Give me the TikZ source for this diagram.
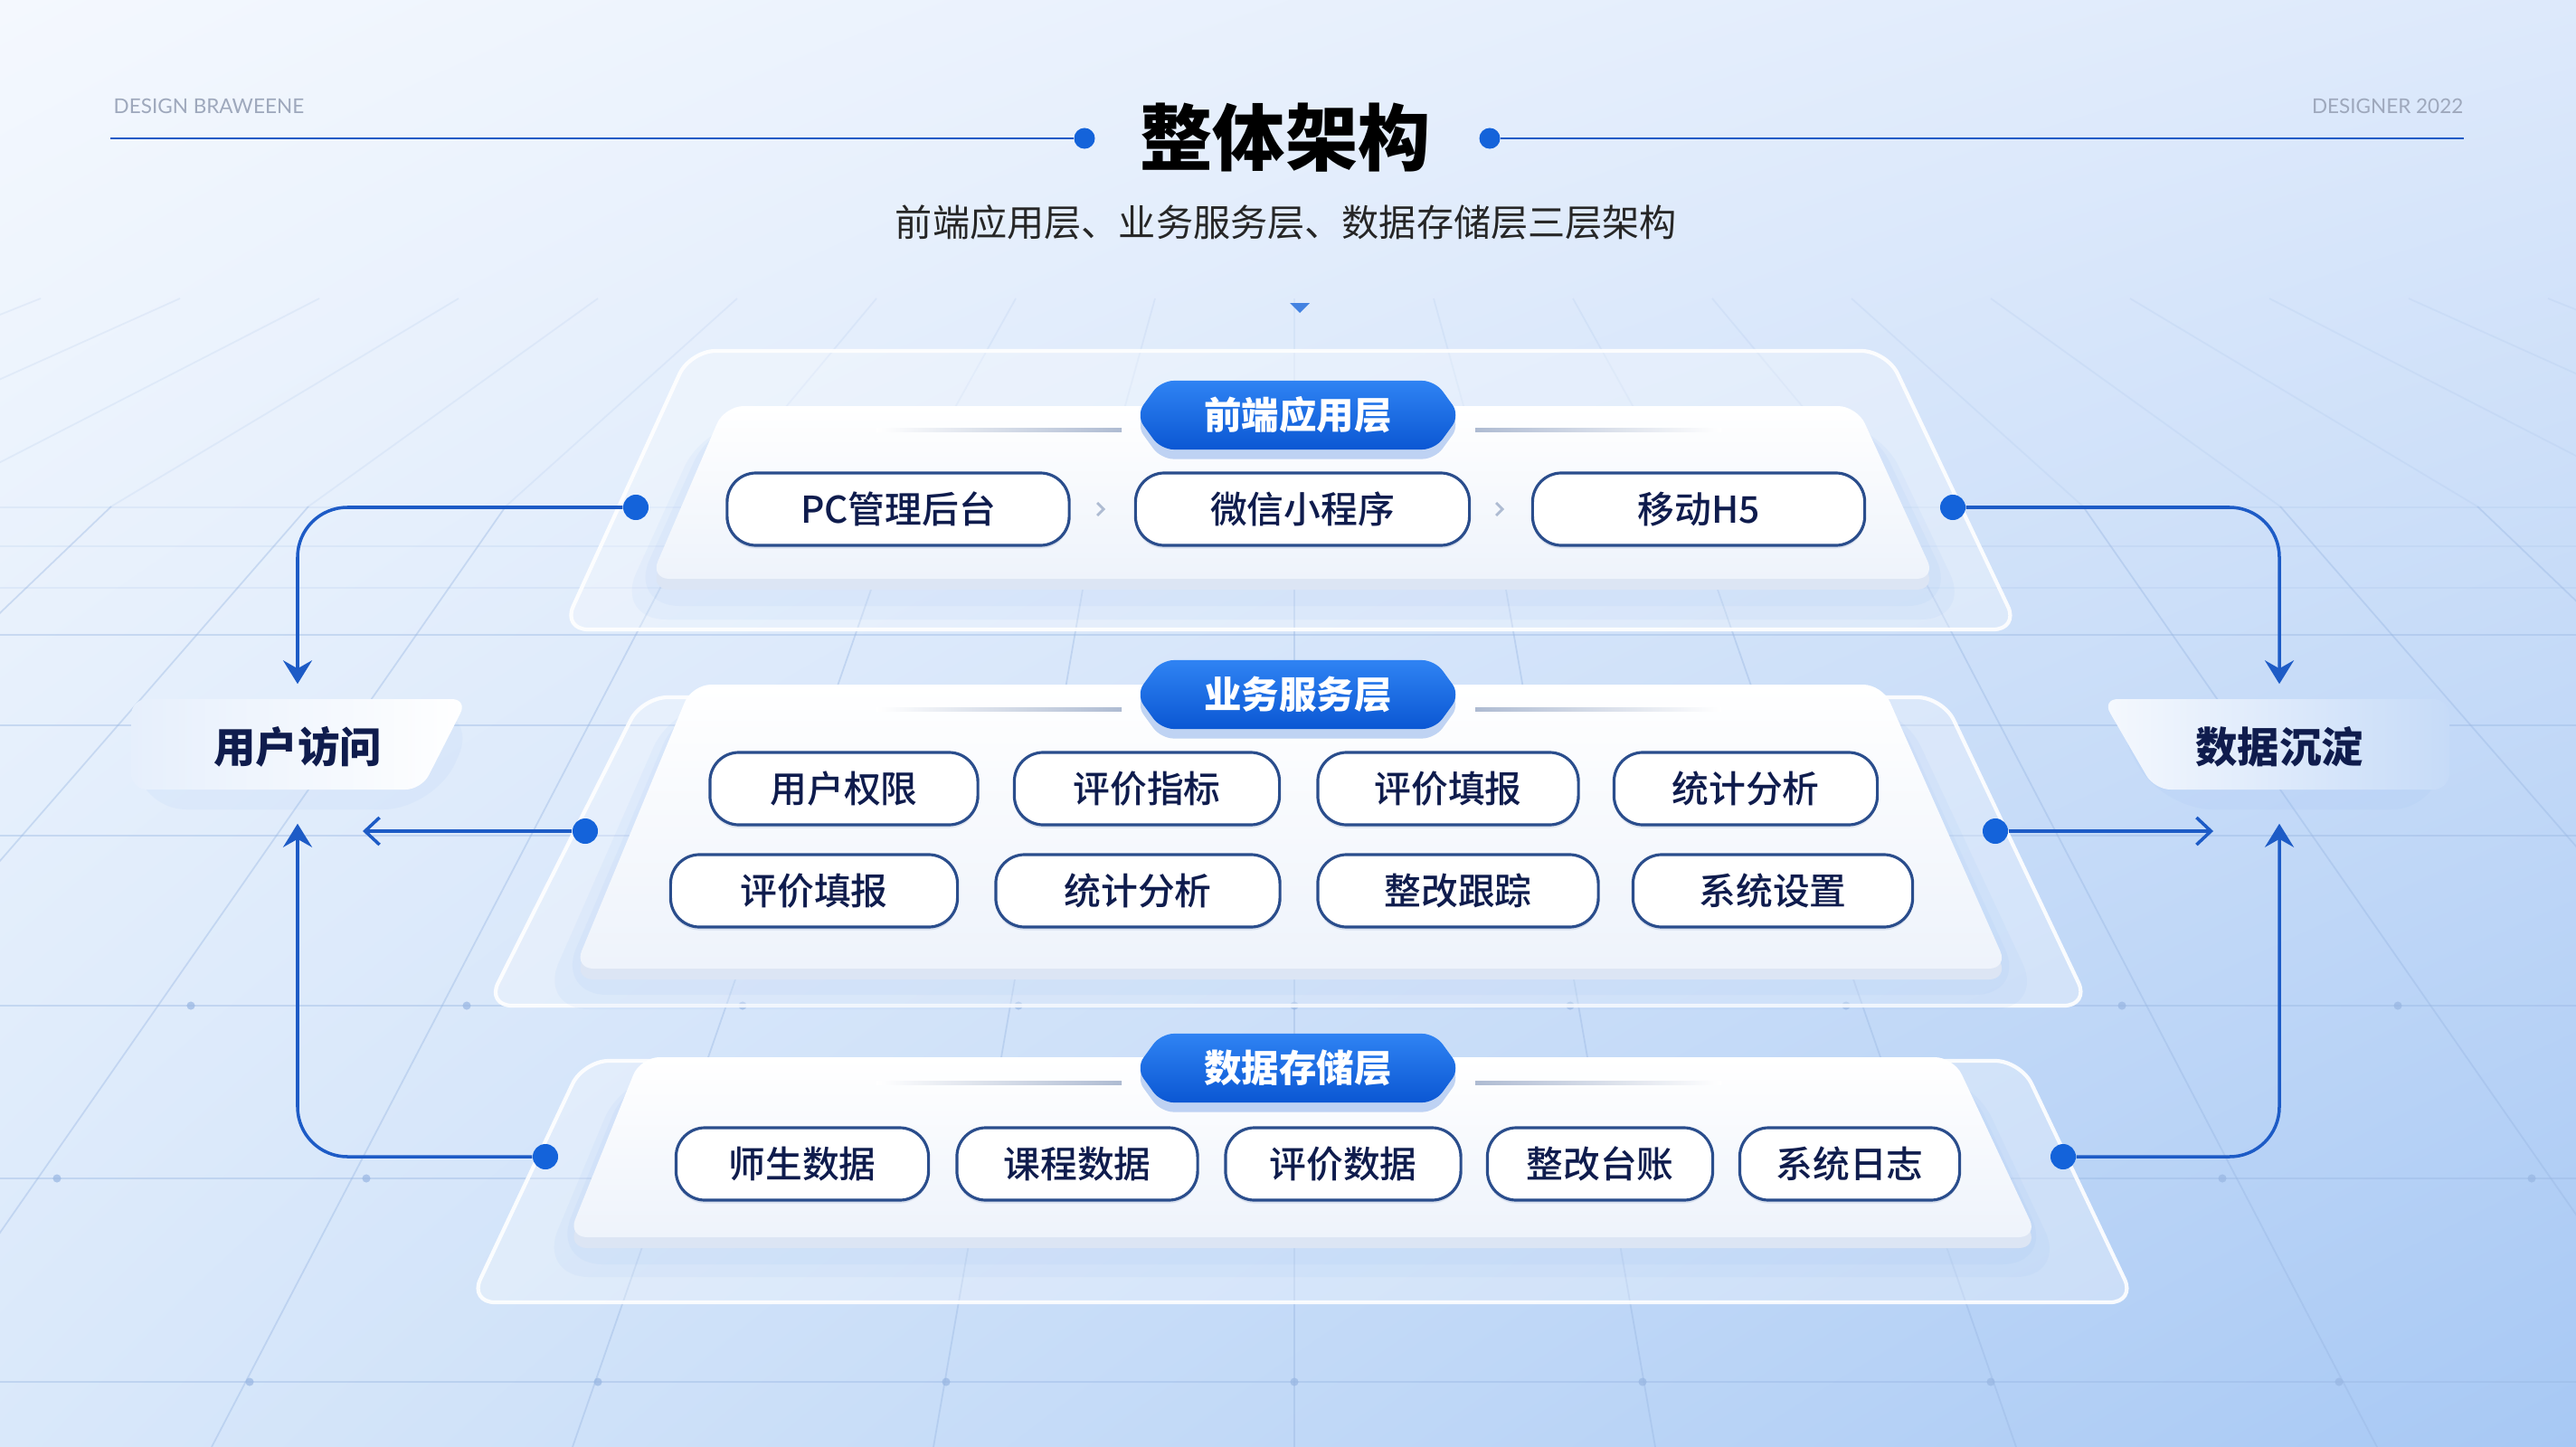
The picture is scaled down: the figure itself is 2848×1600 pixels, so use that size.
\documentclass[tikz,border=0pt]{standalone}
\usepackage{fontspec}
\setmainfont{Noto Sans CJK SC}
\newfontfamily\latinfont{Lato}
\newfontfamily\pillfont{Noto Sans CJK SC}[UprightFont=* Medium]
\usetikzlibrary{arrows.meta,shapes.symbols,shadows,shadings}
\definecolor{bgtl}{HTML}{F4F8FE}
\definecolor{bgtr}{HTML}{DDE9FB}
\definecolor{bgbl}{HTML}{D9E8FA}
\definecolor{bgbr}{HTML}{A7C8F4}
\definecolor{gridcol}{HTML}{98B6E2}
\definecolor{flowblue}{HTML}{1D5BC6}
\definecolor{dotblue}{HTML}{1463DA}
\definecolor{navy}{HTML}{0F1C4D}
\definecolor{pillline}{HTML}{2A4D8C}
\definecolor{badgetop}{HTML}{2F83F3}
\definecolor{badgebot}{HTML}{0B57D3}
\definecolor{platebot}{HTML}{EEF3FB}
\definecolor{plateedge}{HTML}{DCE5F4}
\definecolor{plateglow}{HTML}{7FAEF0}
\definecolor{sideline}{HTML}{AEBBD2}
\definecolor{cornergray}{HTML}{9EA8BC}
\definecolor{fadeL}{HTML}{E6EFFC}
\definecolor{fadeR}{HTML}{C6DBF8}
\tikzset{
  gridline/.style={draw=gridcol,line width=0.5pt,opacity=0.4},
  gridfaint/.style={draw=gridcol,line width=0.5pt,opacity=0.15},
  griddot/.style={fill=gridcol,opacity=0.7},
  glass/.style={fill=white,fill opacity=0.3,draw=white,draw opacity=0.9,line width=1.2pt,rounded corners=8pt},
  edge/.style={fill=plateedge,rounded corners=6pt},
  platetop/.style={top color=white,bottom color=platebot,rounded corners=6pt},
  glow/.style={fill=plateglow,opacity=0.07,rounded corners=16pt},
  pill/.style={draw=pillline,line width=0.9pt,fill=white,rounded corners=0.32cm,minimum height=0.8cm,inner sep=0pt,
    font=\pillfont\fontsize{11.6}{14}\selectfont,text=navy,drop shadow={shadow xshift=0pt,shadow yshift=-1pt,opacity=0.12,fill=pillline}},
  badge/.style={signal,signal to=east and west,signal pointer angle=108,top color=badgetop,bottom color=badgebot,rounded corners=4pt,
    minimum width=3.58cm,minimum height=0.76cm,inner sep=0pt,text=white,font=\fontsize{11.8}{14}\bfseries\selectfont,
    drop shadow={shadow xshift=0pt,shadow yshift=-3pt,opacity=0.25,fill=badgebot}},
  dot/.style={circle,fill=dotblue,minimum size=0.28cm,inner sep=0pt},
  tdot/.style={circle,fill=dotblue,minimum size=0.23cm,inner sep=0pt},
  tline/.style={draw=flowblue,line width=0.6pt},
  flow/.style={draw=flowblue,line width=1pt,rounded corners=0.55cm},
  downtip/.style={-{Stealth[length=0.26cm,width=0.32cm,inset=0.09cm]}},
  opentip/.style={-{Straight Barb[length=0.16cm,width=0.3cm]}},
  side/.style={font=\fontsize{13.2}{16}\bfseries\selectfont,text=navy,minimum height=1cm,inner sep=0pt},
  chev/.style={draw=sideline,line width=0.8pt},
  corner/.style={font=\latinfont\fontsize{6.4}{8}\selectfont,text=cornergray,inner sep=0pt},
}
\begin{document}
\begin{tikzpicture}[x=0.01cm,y=-0.01cm]
  \useasboundingbox (0,0) rectangle (2848,1600);
  \shade[upper left=bgtl,upper right=bgtr,lower left=bgbl,lower right=bgbr] (0,0) rectangle (2848,1600);
  \begin{scope}
    \clip (0,0) rectangle (2848,1600);
    \foreach \k in {-12,...,12}{
      \draw[gridfaint] ({1431+\k*154},330) -- ({1431+\k*218},560);
      \draw[gridline] ({1431+\k*218},560) -- ({1431+\k*399},1600);
    }
    \foreach \y in {561,604,650}
      \draw[gridfaint] (0,\y) -- (2848,\y);
    \foreach \y in {702,802,924,1112,1303,1528}
      \draw[gridline] (0,\y) -- (2848,\y);
    \foreach \y/\s in {1112/305,1303/342,1528/385}
      \foreach \k in {-6,...,6}
        \fill[griddot] ({1431+\k*\s},\y) circle (1.3pt);
  \end{scope}

  \node[corner,anchor=west] (brandl) at (125,117) {DESIGN BRAWEENE};
  \node[corner,anchor=east] (brandr) at (2724,117) {DESIGNER 2022};
  \node[font=\fontsize{22.8}{27}\bfseries\selectfont,text=black] (title) at (1421,152) {整体架构};
  \node[tdot] (tdl) at (1199,153) {};
  \node[tdot] (tdr) at (1647,153) {};
  \coordinate (tll) at (122,153);
  \coordinate (tlr) at (2724,153);
  \draw[tline] (tll) -- (tdl);
  \draw[tline] (tdr) -- (tlr);
  \node[font=\fontsize{11.7}{14}\selectfont,text=black!85] (subtitle) at (1422,246) {前端应用层、业务服务层、数据存储层三层架构};
  \fill[dotblue!80] (1426,335) -- (1448,335) -- (1437,346) -- cycle;

  \draw[glass] (763,388) -- (2086,388) -- (2232,696) -- (622,696) -- cycle;
  \fill[glow] (780,465) -- (2075,465) -- (2180,685) -- (680,685) -- cycle;
  \fill[glow] (790,460) -- (2065,460) -- (2165,670) -- (695,670) -- cycle;
  \fill[edge] (801,461) -- (2053,461) -- (2140,652) -- (719,652) -- cycle;
  \shade[platetop] (801,449) -- (2053,449) -- (2140,640) -- (719,640) -- cycle;
  \shade[left color=white,right color=sideline] (969,473) rectangle (1240,477);
  \shade[left color=sideline,right color=white] (1631,473) rectangle (1903,477);
  \node[badge] (front) at (1435,459) {前端应用层};
  \node[pill,minimum width=3.78cm] (fe1) at (993,563) {PC管理后台};
  \node[pill,minimum width=3.69cm] (fe2) at (1440,563) {微信小程序};
  \node[pill,minimum width=3.67cm] (fe3) at (1878,563) {移动H5};
  \draw[chev] (1213,556) -- (1220,563) -- (1213,570);
  \draw[chev] (1654,556) -- (1661,563) -- (1654,570);

  \draw[glass] (710,771) -- (2148,771) -- (2310,1112) -- (538,1112) -- cycle;
  \fill[glow] (745,775) -- (2100,775) -- (2260,1116) -- (595,1116) -- cycle;
  \fill[glow] (755,772) -- (2090,772) -- (2240,1100) -- (615,1100) -- cycle;
  \fill[edge] (765,769) -- (2081,769) -- (2220,1083) -- (635,1083) -- cycle;
  \shade[platetop] (765,757) -- (2081,757) -- (2220,1071) -- (635,1071) -- cycle;
  \shade[left color=white,right color=sideline] (969,782) rectangle (1240,786);
  \shade[left color=sideline,right color=white] (1631,782) rectangle (1903,786);
  \node[badge] (biz) at (1435,768) {业务服务层};
  \node[pill,minimum width=2.96cm] (bz1) at (933,872) {用户权限};
  \node[pill,minimum width=2.93cm] (bz2) at (1268,872) {评价指标};
  \node[pill,minimum width=2.88cm] (bz3) at (1601,872) {评价填报};
  \node[pill,minimum width=2.91cm] (bz4) at (1930,872) {统计分析};
  \node[pill,minimum width=3.17cm] (bz5) at (900,985) {评价填报};
  \node[pill,minimum width=3.14cm] (bz6) at (1258,985) {统计分析};
  \node[pill,minimum width=3.10cm] (bz7) at (1612,985) {整改跟踪};
  \node[pill,minimum width=3.09cm] (bz8) at (1960,985) {系统设置};

  \draw[glass] (645,1173) -- (2234,1173) -- (2361,1440) -- (519,1440) -- cycle;
  \fill[glow] (690,1185) -- (2178,1185) -- (2285,1412) -- (595,1412) -- cycle;
  \fill[glow] (698,1182) -- (2170,1182) -- (2270,1398) -- (610,1398) -- cycle;
  \fill[edge] (708,1181) -- (2160,1181) -- (2253,1380) -- (628,1380) -- cycle;
  \shade[platetop] (708,1169) -- (2160,1169) -- (2253,1368) -- (628,1368) -- cycle;
  \shade[left color=white,right color=sideline] (969,1195) rectangle (1240,1199);
  \shade[left color=sideline,right color=white] (1631,1195) rectangle (1903,1199);
  \node[badge] (store) at (1435,1181) {数据存储层};
  \node[pill,minimum width=2.79cm] (st1) at (887,1287) {师生数据};
  \node[pill,minimum width=2.66cm] (st2) at (1191,1287) {课程数据};
  \node[pill,minimum width=2.60cm] (st3) at (1485,1287) {评价数据};
  \node[pill,minimum width=2.49cm] (st4) at (1769,1287) {整改台账};
  \node[pill,minimum width=2.43cm] (st5) at (2045,1287) {系统日志};

  \fill[glow] (150,785) -- (530,785) -- (480,895) -- (150,895) -- cycle;
  \shade[left color=fadeL,middle color=white,right color=white,rounded corners=5pt] (145,773) -- (517,773) -- (466,873) -- (145,873) -- cycle;
  \fill[glow] (2330,785) -- (2700,785) -- (2700,895) -- (2390,895) -- cycle;
  \shade[left color=white!60!fadeL,middle color=white!60!fadeL,right color=fadeR,rounded corners=5pt] (2324,773) -- (2708,773) -- (2708,873) -- (2382,873) -- cycle;
  \node[side] (user) at (329,826) {用户访问};
  \node[side] (sink) at (2520,826) {数据沉淀};

  \node[dot] (fel) at (703,561) {};
  \node[dot] (fer) at (2159,561) {};
  \node[dot] (bzl) at (647,919) {};
  \node[dot] (bzr) at (2206,919) {};
  \node[dot] (stl) at (603,1279) {};
  \node[dot] (str) at (2281,1279) {};
  \coordinate (usertip) at (401,919);
  \coordinate (sinktip) at (2447,919);
  \draw[flow,downtip,shorten >=0.19cm] (fel) -| (user.north);
  \draw[flow,downtip,shorten >=0.34cm] (stl) -| (user.south);
  \draw[flow,opentip] (bzl) -- (usertip);
  \draw[flow,downtip,shorten >=0.19cm] (fer) -| (sink.north);
  \draw[flow,downtip,shorten >=0.34cm] (str) -| (sink.south);
  \draw[flow,opentip] (bzr) -- (sinktip);
\end{tikzpicture}
\end{document}
